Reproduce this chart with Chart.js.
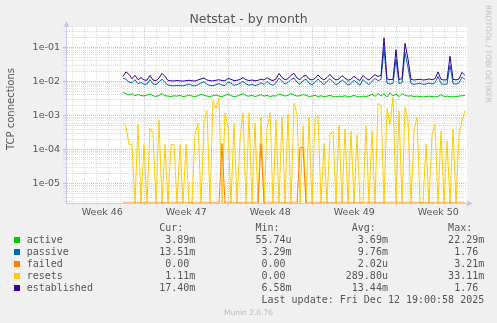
<!DOCTYPE html>
<html>
<head>
<meta charset="utf-8">
<title>Netstat - by month</title>
<script src="https://cdn.jsdelivr.net/npm/chart.js@4.4.1/dist/chart.umd.min.js"></script>
<style>
  body { margin:0; background:#f0f0f0; }
  #wrap { position:relative; width:497px; height:323px; overflow:hidden; font-family:"DejaVu Sans", sans-serif; color:#555; }
  #netstat-chart { position:absolute; left:0; top:0; }
  .title { position:absolute; left:0; top:13px; width:497px; text-align:center; font-size:12.5px; line-height:1; }
  .ytitle { position:absolute; left:10.5px; top:109px; font-size:10px; line-height:1; white-space:nowrap; transform:translate(-50%,-50%) rotate(-90deg); }
  .rrd { position:absolute; left:488px; top:54px; font-size:7.6px; line-height:1; color:#bbb; white-space:nowrap; transform:translate(-50%,-50%) rotate(90deg); }
  pre.legend { position:absolute; left:26.7px; top:221.8px; margin:0; font-family:"DejaVu Sans Mono", monospace; font-size:10px; line-height:12px; color:#555; }
  .sw { position:absolute; left:14px; width:6px; height:6px; }
  .munin { position:absolute; left:0; top:308.6px; width:497px; text-align:center; font-size:7.5px; line-height:1; color:#bbb; }
</style>
</head>
<body>
<div id="wrap">
  <canvas id="netstat-chart" width="497" height="323"></canvas>
  <div class="title">Netstat - by month</div>
  <div class="ytitle">TCP connections</div>
  <div class="rrd">RRDTOOL / TOBI OETIKER</div>
  <pre class="legend" id="legend"></pre>
  <div class="munin">Munin 2.0.76</div>
</div>
<script>
// one sample every 6 hours, first sample on day 4.225 of the window
const startDay = 4.225;
const stepDay = 0.25;

const active = [
  0.0048, 0.0043, 0.0040, 0.0044, 0.0038, 0.0041, 0.0039, 0.0037, 0.0040, 0.0043, 0.0038, 0.0036, 0.0039, 0.0044, 0.0038, 0.0037,
  0.0036, 0.0038, 0.0037, 0.0039, 0.0036, 0.0037, 0.0040, 0.0037, 0.0036, 0.0038, 0.0042, 0.0039, 0.0037, 0.0036, 0.0038, 0.0040,
  0.0037, 0.0036, 0.0039, 0.0043, 0.0038, 0.0036, 0.0037, 0.0040, 0.0044, 0.0038, 0.0037, 0.0039, 0.0036, 0.0038, 0.0041, 0.0037,
  0.0039, 0.0036, 0.0038, 0.0037, 0.0043, 0.0040, 0.0037, 0.0039, 0.0044, 0.0040, 0.0037, 0.0038, 0.0041, 0.0039, 0.0036, 0.0037,
  0.0039, 0.0036, 0.0038, 0.0035, 0.0037, 0.0039, 0.0036, 0.0035, 0.0037, 0.0036, 0.0038, 0.0035, 0.0036, 0.0039, 0.0036, 0.0035,
  0.0037, 0.0036, 0.0038, 0.0042, 0.0036, 0.0045, 0.0037, 0.0043, 0.0035, 0.0046, 0.0038, 0.0042, 0.0036, 0.0044, 0.0039, 0.0037,
  0.0038, 0.0036, 0.0037, 0.0036, 0.0035, 0.0036, 0.0037, 0.0036, 0.0035, 0.0036, 0.0041, 0.0036, 0.0037, 0.0036, 0.0035, 0.0036, 0.0037, 0.0038, 0.0039
];
const passive = [
  0.0125, 0.0115, 0.0095, 0.0091, 0.0112, 0.0086, 0.0093, 0.0082, 0.0084, 0.0113, 0.0086, 0.0080, 0.0095, 0.0117, 0.0093, 0.0078,
  0.0075, 0.0074, 0.0076, 0.0075, 0.0074, 0.0078, 0.0084, 0.0076, 0.0074, 0.0080, 0.0091, 0.0097, 0.0082, 0.0076, 0.0075, 0.0080,
  0.0086, 0.0078, 0.0076, 0.0095, 0.0089, 0.0077, 0.0080, 0.0088, 0.0100, 0.0084, 0.0077, 0.0082, 0.0075, 0.0080, 0.0091, 0.0081,
  0.0100, 0.0084, 0.0077, 0.0091, 0.0125, 0.0100, 0.0084, 0.0093, 0.0114, 0.0125, 0.0095, 0.0082, 0.0106, 0.0116, 0.0088, 0.0080,
  0.0093, 0.0117, 0.0095, 0.0080, 0.0100, 0.0121, 0.0097, 0.0080, 0.0089, 0.0112, 0.0093, 0.0078, 0.0086, 0.0108, 0.0091, 0.0077,
  0.0114, 0.0093, 0.0080, 0.0100, 0.0121, 0.0106, 0.0114, 0.0900, 0.0089, 0.0084, 0.0088, 0.0450, 0.0086, 0.0091, 0.0700, 0.0250,
  0.0087, 0.0082, 0.0085, 0.0088, 0.0082, 0.0084, 0.0090, 0.0084, 0.0091, 0.0140, 0.0086, 0.0082, 0.0084, 0.0300, 0.0087, 0.0083, 0.0090, 0.0135, 0.0114
];
const failed = [
  0, 0, 0, 0, 0, 0, 0, 0, 0, 0, 0, 0, 0, 0, 0, 0,
  0, 0, 0, 0, 0, 0, 0, 0, 0, 0, 0, 0, 0, 0, 0, 0,
  0, 1.5e-4, 0, 0, 0, 0, 0, 0, 0, 0, 0, 0, 0, 0, 1.5e-4, 0,
  0, 0, 0, 0, 0, 0, 0, 0, 0, 0, 0, 1.1e-4, 1.2e-4, 0, 0, 0,
  0, 0, 0, 0, 0, 0, 0, 0, 0, 0, 0, 0, 0, 0, 0, 0,
  0, 0, 0, 0, 0, 0, 0, 0, 0, 0, 0, 0, 0, 0, 0, 0,
  0, 0, 0, 0, 0, 0, 0, 0, 0, 0, 0, 0, 0, 0, 0, 0, 0, 0, 0
];
const resets = [
  5.8e-4, 4.8e-4, 1.4e-4, 1.4e-4, 0, 5.5e-4, 0, 1.4e-4, 0, 4.2e-4, 3e-4, 0, 7.3e-4, 0, 1.4e-4, 0,
  1.4e-4, 1.4e-4, 0, 1.4e-4, 0, 1.4e-4, 0, 0, 3e-4, 5.8e-4, 0, 6.5e-4, 1.4e-3, 0, 2.8e-3, 1.6e-3,
  3.2e-3, 0, 1.2e-3, 4.5e-4, 0, 6e-4, 0, 2e-4, 1.2e-3, 0, 1.2e-3, 0, 6e-4, 0, 9e-4, 0,
  4e-4, 1.2e-3, 0, 7.3e-4, 0, 9e-4, 0, 1.1e-3, 0, 2.3e-3, 1.1e-3, 0, 5e-4, 0, 9e-4, 0,
  8e-4, 1e-3, 0, 1.5e-4, 0, 2.7e-4, 3.5e-4, 0, 5.2e-4, 0, 4e-4, 0, 3.5e-4, 0, 2.7e-4, 0,
  0, 5e-4, 0, 3.5e-4, 0, 2.3e-3, 1.9e-3, 0, 1.6e-3, 5.5e-4, 3.5e-3, 0, 1.4e-3, 0, 1.8e-3, 7e-4,
  0, 3.5e-4, 9e-4, 0, 0, 1.5e-4, 0, 2.7e-4, 5.5e-4, 0, 3.5e-4, 0, 1.8e-4, 0, 4e-4, 0, 2.7e-4, 7e-4, 1.4e-3
];
const established = [
  0.0140, 0.0190, 0.0160, 0.0120, 0.0150, 0.0112, 0.0130, 0.0110, 0.0108, 0.0150, 0.0110, 0.0105, 0.0125, 0.0172, 0.0140, 0.0106,
  0.0104, 0.0103, 0.0106, 0.0104, 0.0102, 0.0105, 0.0108, 0.0104, 0.0103, 0.0110, 0.0118, 0.0126, 0.0110, 0.0105, 0.0104, 0.0108,
  0.0112, 0.0106, 0.0104, 0.0122, 0.0116, 0.0105, 0.0108, 0.0114, 0.0128, 0.0112, 0.0106, 0.0110, 0.0104, 0.0108, 0.0116, 0.0110,
  0.0128, 0.0112, 0.0106, 0.0118, 0.0172, 0.0130, 0.0112, 0.0120, 0.0150, 0.0172, 0.0125, 0.0112, 0.0140, 0.0152, 0.0118, 0.0110,
  0.0122, 0.0155, 0.0125, 0.0110, 0.0130, 0.0160, 0.0126, 0.0110, 0.0118, 0.0148, 0.0124, 0.0108, 0.0114, 0.0142, 0.0120, 0.0106,
  0.0150, 0.0122, 0.0110, 0.0132, 0.0158, 0.0140, 0.0150, 0.1900, 0.0118, 0.0112, 0.0116, 0.0850, 0.0114, 0.0120, 0.1300, 0.0450,
  0.0115, 0.0110, 0.0113, 0.0116, 0.0110, 0.0112, 0.0118, 0.0112, 0.0120, 0.0190, 0.0114, 0.0110, 0.0112, 0.0550, 0.0115, 0.0111, 0.0118, 0.0185, 0.0150
];

// x axis: days of the window, week labels sit mid week
const weekDays = [2.5, 9.5, 16.5, 23.5, 30.5];
const weekLabels = ['Week 46', 'Week 47', 'Week 48', 'Week 49', 'Week 50'];
const xMin = -0.525, xMax = 32.89;
const yMin = 2.7e-6, yMax = 0.395;

// legend table
const names = ['active', 'passive', 'failed', 'resets', 'established'];
const colors = ['#00cc00', '#0066b3', '#ff8000', '#ffcc00', '#330099'];
const curVals = ['3.89m', '13.51m', '0.00', '1.11m', '17.40m'];
const minVals = ['55.74u', '3.29m', '0.00', '0.00', '6.58m'];
const avgVals = ['3.69m', '9.76m', '2.02u', '289.80u', '13.44m'];
const maxVals = ['22.29m', '1.76', '3.21m', '33.11m', '1.76'];
const lastUpdate = 'Last update: Fri Dec 12 19:00:58 2025';

function unit(s){ return /\d$/.test(s) ? s + ' ' : s; }

function buildLegend(){
  let lines = [' '.repeat(22) + 'Cur:' + ' '.repeat(12) + 'Min:' + ' '.repeat(12) + 'Avg:' + ' '.repeat(12) + 'Max:'];
  for(let i = 0; i < names.length; i++){
    lines.push(names[i].padEnd(22) + unit(curVals[i]).padStart(6) + ' '.repeat(10) +
      unit(minVals[i]).padStart(6) + ' '.repeat(9) + unit(avgVals[i]).padStart(7) + ' '.repeat(10) +
      unit(maxVals[i]).padStart(6));
    const sw = document.createElement('div');
    sw.className = 'sw';
    sw.style.top = (237 + 12 * i) + 'px';
    sw.style.background = colors[i];
    document.getElementById('wrap').appendChild(sw);
  }
  lines.push(' '.repeat(39) + lastUpdate);
  document.getElementById('legend').textContent = lines.join('\n');
}
buildLegend();

// zero has no place on a log axis: rrdtool pins it to the bottom edge
function toPoints(arr){
  return arr.map((v, i) => ({x: startDay + i * stepDay, y: v > 0 ? v : yMin}));
}

function series(idx, arr, order){
  return {
    label: names[idx],
    data: toPoints(arr),
    borderColor: colors[idx],
    backgroundColor: colors[idx],
    borderWidth: 1,
    borderJoinStyle: 'round',
    pointRadius: 0,
    tension: 0,
    fill: false,
    order: order
  };
}

const xTicks = [];
for(let d = 0; d <= 32; d++) xTicks.push(d);
weekDays.forEach(d => xTicks.push(d));
xTicks.sort((a, b) => a - b);

const yTicks = [];
for(let k = -6; k <= -1; k++){
  for(let m = 1; m <= 9; m++){
    const v = m * Math.pow(10, k);
    if(v >= yMin && v <= yMax) yTicks.push(v);
  }
}

const isDecade = v => Math.abs(Math.log10(v) - Math.round(Math.log10(v))) < 1e-9;

const gridGray = '#dedede';
const gridRed = 'rgba(230,140,140,0.65)';

function xGridColor(ctx){
  const v = ctx.tick ? ctx.tick.value : 0;
  if(!Number.isInteger(v)) return 'rgba(0,0,0,0)';
  return (v % 7 === 6) ? gridRed : gridGray;
}
function yGridColor(ctx){
  const v = ctx.tick ? ctx.tick.value : 1;
  return isDecade(v) ? gridRed : gridGray;
}

// white plot area and the little axis arrows
const munStyle = {
  id: 'munStyle',
  beforeDraw(chart){
    const {ctx, chartArea: {left, top, width, height}} = chart;
    ctx.save();
    ctx.fillStyle = '#ffffff';
    ctx.fillRect(left, top, width, height);
    ctx.restore();
  },
  afterDraw(chart){
    const {ctx, chartArea: {left, right, top, bottom}} = chart;
    ctx.save();
    ctx.fillStyle = '#c8c8f0';
    ctx.beginPath();
    ctx.moveTo(left + 0.5, top - 6);
    ctx.lineTo(left - 2.5, top);
    ctx.lineTo(left + 3.5, top);
    ctx.closePath();
    ctx.fill();
    ctx.beginPath();
    ctx.moveTo(right + 6, bottom + 0.5);
    ctx.lineTo(right, bottom - 2.5);
    ctx.lineTo(right, bottom + 3.5);
    ctx.closePath();
    ctx.fill();
    ctx.restore();
  }
};

const tickFont = {family: 'DejaVu Sans', size: 9.5};

const config = {
  type: 'line',
  data: {
    datasets: [
      series(0, active, 4),
      series(1, passive, 3),
      series(2, failed, 1),
      series(3, resets, 2),
      series(4, established, 0)
    ]
  },
  options: {
    responsive: false,
    devicePixelRatio: 1,
    animation: false,
    events: [],
    layout: { padding: {top: 27, right: 30, bottom: 0, left: 0} },
    plugins: {
      legend: {display: false},
      tooltip: {enabled: false},
      title: {display: false}
    },
    scales: {
      x: {
        type: 'linear',
        min: xMin,
        max: xMax,
        bounds: 'data',
        afterBuildTicks: s => { s.ticks = xTicks.map(v => ({value: v})); },
        afterFit: s => { s.height = 120; },
        grid: { color: xGridColor, tickColor: xGridColor, tickLength: 2, lineWidth: 1 },
        border: { display: true, color: '#c8c8f0', dash: [1, 1] },
        ticks: {
          autoSkip: false,
          maxRotation: 0,
          padding: 2,
          color: '#555',
          font: tickFont,
          callback: v => { const i = weekDays.indexOf(v); return i >= 0 ? weekLabels[i] : ''; }
        }
      },
      y: {
        type: 'logarithmic',
        min: yMin,
        max: yMax,
        bounds: 'data',
        afterBuildTicks: s => { s.ticks = yTicks.map(v => ({value: v})); },
        afterFit: s => { s.width = 66; },
        grid: { color: yGridColor, tickColor: yGridColor, tickLength: 3, lineWidth: 1 },
        border: { display: true, color: '#c8c8f0', dash: [1, 1] },
        ticks: {
          autoSkip: false,
          padding: 3,
          color: '#555',
          font: tickFont,
          callback: v => isDecade(v) ? '1e-' + String(-Math.round(Math.log10(v))).padStart(2, '0') : ''
        }
      }
    }
  },
  plugins: [munStyle]
};

const myChart = new Chart(document.getElementById('netstat-chart'), config);
</script>
</body>
</html>
